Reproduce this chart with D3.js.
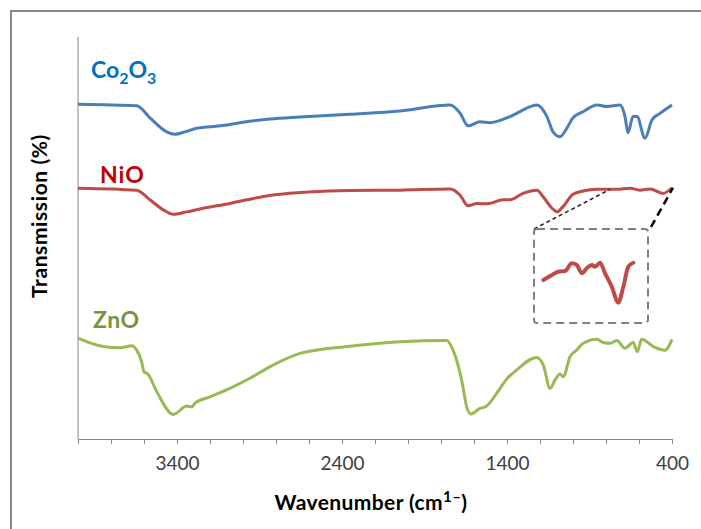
<!DOCTYPE html>
<html>
<head>
<meta charset="utf-8">
<script src="https://cdn.jsdelivr.net/npm/d3@7"></script>
<style>
  body { margin: 0; background: #fff; }
  svg { display: block; }
</style>
</head>
<body>
<div id="chart"></div>
<script>
// FTIR spectra, wavenumber (cm-1) vs. transmission, offset per sample
const coWn = [4000, 3644, 3564, 3462, 3412, 3352, 3281, 3139, 3000, 2836, 2655, 2352, 2048, 1745, 1685, 1636, 1564, 1503, 1382, 1218, 1158, 1121, 1079, 1036, 1000, 939, 855, 794, 715, 685, 667, 636, 612, 564, 521, 473, 400];
const coT  = [83.3, 82.9, 79.9, 76.4, 75.8, 76.4, 77.3, 77.9, 78.8, 79.6, 80.1, 80.8, 81.6, 83.1, 81.1, 77.9, 78.9, 78.7, 80.2, 83.1, 80.2, 76.4, 75.2, 77.4, 79.9, 81.4, 83.1, 82.7, 83.1, 80.2, 76.2, 80.2, 80.2, 74.8, 79.4, 81.0, 83.1];

const niWn = [4000, 3644, 3564, 3483, 3422, 3341, 3242, 3079, 2977, 2818, 2352, 2048, 1745, 1685, 1636, 1582, 1521, 1424, 1382, 1303, 1218, 1182, 1127, 1097, 1061, 1000, 939, 855, 733, 655, 594, 533, 455, 400];
const niT  = [62.4, 61.9, 59.5, 57.0, 55.9, 56.5, 57.4, 58.6, 59.5, 60.7, 61.8, 61.9, 62.2, 60.7, 58.0, 58.6, 58.5, 59.5, 59.5, 61.1, 61.9, 60.3, 57.4, 56.5, 57.8, 60.9, 61.7, 62.1, 62.1, 62.4, 61.9, 62.2, 61.1, 62.5];

const znWn = [4000, 3847, 3745, 3675, 3644, 3614, 3600, 3580, 3523, 3422, 3341, 3311, 3291, 3200, 3079, 2958, 2836, 2655, 2352, 2048, 1765, 1727, 1675, 1644, 1620, 1564, 1523, 1462, 1402, 1341, 1220, 1180, 1139, 1109, 1079, 1059, 1018, 978, 938, 856, 816, 776, 735, 685, 635, 610, 584, 513, 442, 400];
const znT  = [25.1, 23.0, 22.7, 23.2, 22.1, 19.2, 16.7, 16.3, 11.8, 6.1, 8.2, 8.0, 8.9, 10.5, 12.6, 15.1, 18.0, 21.3, 23.1, 24.2, 24.5, 22.1, 14.7, 8.0, 6.2, 7.6, 8.2, 11.4, 14.9, 17.2, 20.3, 18.4, 12.6, 14.7, 16.2, 15.5, 20.5, 22.1, 23.8, 24.8, 24.0, 23.8, 24.5, 22.6, 24.0, 21.7, 24.8, 23.0, 22.1, 24.8];

// magnified NiO region (inset)
const insetWn = [780, 746, 720, 693, 666, 646, 626, 606, 586, 573, 553, 533, 506, 480, 460, 440, 420];
const insetT  = [45.7, 51.1, 54.6, 55.3, 63.5, 61.7, 52.9, 58.2, 61.7, 59.9, 64.1, 52.9, 38.6, 21.6, 38.6, 59.9, 64.1];
const zoomFrom = [776, 400];   // wavenumber span shown in the inset
const zoomAt = [62.1, 62.5];   // NiO transmission at those ends

const tickValues = d3.range(4000, 399, -200);
const tickLabels = [3400, 2400, 1400, 400];

const width = 701, height = 529;
const margin = { left: 78, right: 29, top: 37, bottom: 90 };

const svg = d3.select("#chart").append("svg")
    .attr("width", width)
    .attr("height", height);

// outer chart frame (runs off the picture at right and bottom)
svg.append("rect")
    .attr("x", 11).attr("y", 11)
    .attr("width", 720).attr("height", 540)
    .attr("fill", "none")
    .attr("stroke", "#898989")
    .attr("stroke-width", 2);

const x = d3.scaleLinear()
    .domain([4000, 400])
    .range([margin.left, width - margin.right]);

const y = d3.scaleLinear()
    .domain([0, 100])
    .range([height - margin.bottom, margin.top]);

// x axis
const xAxis = d3.axisBottom(x)
    .tickValues(tickValues)
    .tickSize(5)
    .tickFormat(d => tickLabels.includes(d) ? d : "");

const gx = svg.append("g")
    .attr("transform", `translate(0,${y(0)})`)
    .call(xAxis);
gx.select(".domain").attr("stroke", "#868686");
gx.selectAll(".tick line").attr("stroke", "#868686");
gx.selectAll(".tick text")
    .attr("dy", "1.2em")
    .attr("fill", "#404040")
    .style("font-family", "Lato, 'Open Sans', sans-serif")
    .style("font-size", "19px");

// y axis, no ticks
svg.append("line")
    .attr("x1", x(4000)).attr("x2", x(4000))
    .attr("y1", y(0)).attr("y2", y(100))
    .attr("stroke", "#868686");

// axis titles
svg.append("text")
    .attr("x", 371).attr("y", 510)
    .attr("text-anchor", "middle")
    .style("font-family", "Lato, 'Open Sans', sans-serif")
    .style("font-weight", "bold")
    .style("font-size", "21px")
    .style("letter-spacing", "0.4px")
    .attr("fill", "#000")
    .call(t => {
        t.append("tspan").text("Wavenumber (cm");
        t.append("tspan").text("1–").attr("dy", -8).style("font-size", "15px");
        t.append("tspan").text(")").attr("dy", 8);
    });

svg.append("text")
    .attr("transform", "translate(47,216) rotate(-90)")
    .attr("text-anchor", "middle")
    .style("font-family", "Lato, 'Open Sans', sans-serif")
    .style("font-weight", "bold")
    .style("font-size", "21px")
    .style("letter-spacing", "0.6px")
    .attr("fill", "#000")
    .text("Transmission (%)");

// spectra
const line = d3.line()
    .x(d => x(d[0]))
    .y(d => y(d[1]))
    .curve(d3.curveMonotoneX);

const series = [
    { wn: coWn, t: coT, color: "#4A7EBB" },
    { wn: niWn, t: niT, color: "#BE4B48" },
    { wn: znWn, t: znT, color: "#98B954" }
];

series.forEach(s => {
    svg.append("path")
        .datum(d3.zip(s.wn, s.t))
        .attr("d", line)
        .attr("fill", "none")
        .attr("stroke", s.color)
        .attr("stroke-width", 3)
        .attr("stroke-linejoin", "round");
});

// series labels
const labelFont = "Lato, 'Open Sans', sans-serif";
const coLabel = svg.append("text")
    .attr("x", 91).attr("y", 78)
    .attr("fill", "#0070C0")
    .style("font-family", labelFont)
    .style("font-weight", "bold")
    .style("font-size", "23px");
coLabel.append("tspan").text("Co");
coLabel.append("tspan").text("2").attr("dy", 6).style("font-size", "16px");
coLabel.append("tspan").text("O").attr("dy", -6);
coLabel.append("tspan").text("3").attr("dy", 6).style("font-size", "16px");

svg.append("text")
    .attr("x", 100).attr("y", 183)
    .attr("fill", "#C00000")
    .style("font-family", labelFont)
    .style("font-weight", "bold")
    .style("font-size", "23px")
    .style("letter-spacing", "1px")
    .text("NiO");

svg.append("text")
    .attr("x", 93).attr("y", 328)
    .attr("fill", "#77933C")
    .style("font-family", labelFont)
    .style("font-weight", "bold")
    .style("font-size", "23px")
    .style("letter-spacing", "0.5px")
    .text("ZnO");

// inset: magnified NiO region
const box = { x0: 534, x1: 648, y0: 229, y1: 323 };

svg.append("line")
    .attr("x1", box.x0).attr("y1", box.y0)
    .attr("x2", x(zoomFrom[0])).attr("y2", y(zoomAt[0]))
    .attr("stroke", "#222")
    .attr("stroke-width", 1.5)
    .attr("stroke-dasharray", "4,3");

svg.append("line")
    .attr("x1", box.x1 + 3).attr("y1", box.y0 - 2)
    .attr("x2", x(zoomFrom[1]) + 1).attr("y2", y(zoomAt[1]))
    .attr("stroke", "#000")
    .attr("stroke-width", 2.5)
    .attr("stroke-dasharray", "8,5");

svg.append("rect")
    .attr("x", box.x0).attr("y", box.y0)
    .attr("width", box.x1 - box.x0).attr("height", box.y1 - box.y0)
    .attr("rx", 3)
    .attr("fill", "none")
    .attr("stroke", "#808080")
    .attr("stroke-width", 2)
    .attr("stroke-dasharray", "8,5");

const ix = d3.scaleLinear().domain([780, 420]).range([543.3, 633.3]);
const iy = d3.scaleLinear().domain([0, 100]).range([box.y1, box.y0]);

svg.append("path")
    .datum(d3.zip(insetWn, insetT))
    .attr("d", d3.line().x(d => ix(d[0])).y(d => iy(d[1])).curve(d3.curveMonotoneX))
    .attr("fill", "none")
    .attr("stroke", "#BE4B48")
    .attr("stroke-width", 4)
    .attr("stroke-linecap", "round")
    .attr("stroke-linejoin", "round");
</script>
</body>
</html>
